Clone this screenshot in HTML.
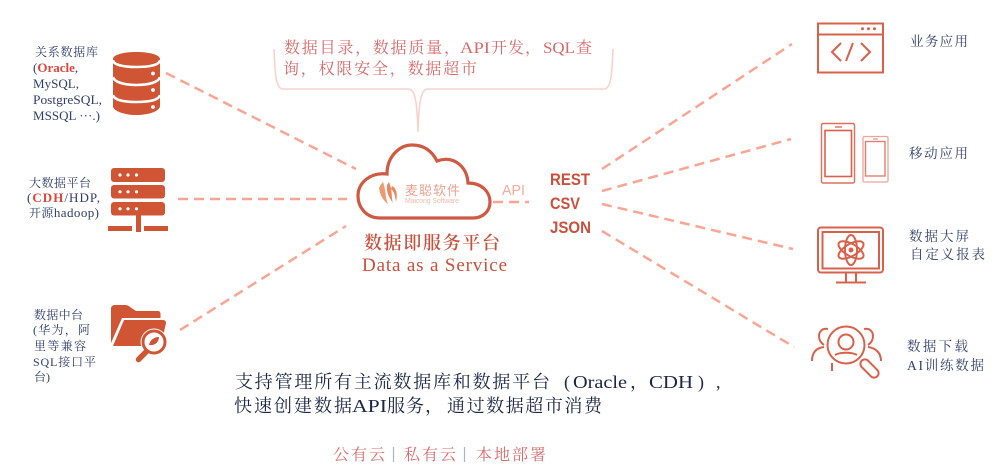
<!DOCTYPE html>
<html><head><meta charset="utf-8">
<style>
html,body{margin:0;padding:0;background:#fff}
svg{display:block}
text{font-family:"Liberation Serif","Noto Serif CJK SC",serif}
.l{font-size:12px;fill:#2f3d6a}
.n{font-size:13px;fill:#2f3d6a}
.m{font-size:13.500px;fill:#2f3d6a}
.b{font-size:18px;fill:#1b2647}
.t{font-size:16px;fill:#d9696a}
.s{font-family:"Liberation Sans","Noto Sans CJK SC",sans-serif}
.r{font-family:"Liberation Sans",sans-serif;font-size:17px;font-weight:bold;fill:#c9503d}
.dash{stroke:#f9a594;stroke-width:2.500;stroke-dasharray:10 6;fill:none}
.ic{fill:none;stroke:#d9604a;stroke-width:2}
</style></head><body>
<svg width="1006" height="473" viewBox="0 0 1006 473" xmlns="http://www.w3.org/2000/svg">
<rect width="1006" height="473" fill="#fff"/>

<!-- connectors -->
<path class="dash" d="M166 73L356 169"/>
<path class="dash" d="M178 199H347"/>
<path class="dash" d="M180 330L346 226"/>
<path class="dash" d="M493 202H529"/>
<path class="dash" d="M602 169L792 44"/>
<path class="dash" d="M602 191L791 139"/>
<path class="dash" d="M602 204L793 249"/>
<path class="dash" d="M602 231L794 347"/>

<!-- bracket -->
<path d="M274 49C275 70 275 89 283 89H408C415 89 417 100 418 132C419 100 421 89 428 89H604C612 89 612 70 613 49" fill="none" stroke="#f7d3cf" stroke-width="1.600"/>

<!-- database icon -->
<path d="M113 59C113 55 123 52 136.500 52S160 55 160 59V106C160 111 149 115 136.500 115S113 111 113 106Z" fill="#d05535"/>
<path d="M113 60C113 65 124 67 136.500 67S160 65 160 60M113 77C114 82 124 85 136.500 85S159 82 160 77M113 95C114 100 124 102 136.500 102S159 100 160 95" fill="none" stroke="#fff" stroke-width="2.600"/>
<circle cx="153" cy="73.500" r="1.900" fill="#fff"/><circle cx="153" cy="90" r="1.900" fill="#fff"/><circle cx="153" cy="107" r="1.900" fill="#fff"/>

<!-- server icon -->
<g fill="#d05535">
<rect x="111" y="168" width="54" height="14" rx="3"/>
<rect x="111" y="185" width="54" height="13.500" rx="3"/>
<rect x="111" y="202" width="54" height="13.500" rx="3"/>
<rect x="136" y="215" width="5" height="17"/>
<rect x="108" y="226" width="24" height="5"/>
<rect x="144" y="226" width="24" height="5"/>
</g>
<g fill="#fff">
<circle cx="120" cy="175" r="1.600"/><circle cx="128" cy="175" r="1.600"/><circle cx="136.500" cy="175" r="1.600"/>
<circle cx="120" cy="191.800" r="1.600"/><circle cx="128" cy="191.800" r="1.600"/><circle cx="136.500" cy="191.800" r="1.600"/>
<circle cx="120" cy="208.800" r="1.600"/><circle cx="128" cy="208.800" r="1.600"/><circle cx="136.500" cy="208.800" r="1.600"/>
</g>

<!-- folder icon -->
<path d="M111 309Q111 305 115 305H125Q128 305 130 307L136 311H158Q160.500 311 160.500 314V318H122L111 343Z" fill="#d05535"/>
<path d="M124 320H163Q166 320 166 323L164 332L147 346H113Z" fill="#d05535"/>
<circle cx="154" cy="342" r="13.500" fill="#fff"/>
<circle cx="154" cy="342" r="11" fill="#fff" stroke="#d05535" stroke-width="3"/>
<path d="M149 345C150 340 154 337 159 337C159 342 155 346 149 345Z" fill="#d05535"/>
<path d="M146 352L138.500 359.500" stroke="#d05535" stroke-width="5.500" stroke-linecap="round"/>

<!-- cloud -->
<path d="M380 218C366 218 358 207 358 196C358 183 370 172 387 174C387 156 400 145 412 145C424 145 432 151 437 161C453 155 467 166 468 183C482 183 490 192 490 202C490 212 482 218 473 218Z" fill="#fff" stroke="#cf5a43" stroke-width="3.200"/>
<path d="M379 188C380 196 384 201 388 204C385 197 386 190 383 182C381 184 380 186 379 188Z" fill="#ec9a70"/>
<path d="M387 185C386 193 390 199 393 203C391 197 393 192 389 182Z" fill="#e58a60"/>
<path d="M392 186C396 188 398 193 396 202C395 196 394 191 391 189Z" fill="#e58a60"/>
<text x="405" y="195" class="s" font-size="13" fill="#eaa391" textLength="55" lengthAdjust="spacing">麦聪软件</text>
<text x="405" y="203" class="s" font-size="7" fill="#f0bcab" textLength="54" lengthAdjust="spacing">Maicong Software</text>

<!-- center labels -->
<text x="364" y="249" font-size="18" font-weight="600" fill="#c9503d" textLength="136" lengthAdjust="spacing">数据即服务平台</text>
<text x="362" y="271" font-size="19" fill="#c9503d" textLength="145" lengthAdjust="spacing">Data as a Service</text>
<text x="502" y="195" class="s" font-size="15" fill="#f8ac9c" textLength="23" lengthAdjust="spacingAndGlyphs">API</text>
<text x="550" y="185" class="r" textLength="40" lengthAdjust="spacingAndGlyphs">REST</text>
<text x="550" y="209" class="r" textLength="30" lengthAdjust="spacingAndGlyphs">CSV</text>
<text x="550" y="233" class="r" textLength="41" lengthAdjust="spacingAndGlyphs">JSON</text>

<!-- top text -->
<text x="284" y="53" class="t" textLength="176" lengthAdjust="spacing">数据目录，数据质量，</text>
<text x="460" y="53" class="t" textLength="30" lengthAdjust="spacingAndGlyphs">API</text>
<text x="491" y="53" class="t" textLength="50" lengthAdjust="spacing">开发，</text>
<text x="543" y="53" class="t" textLength="32" lengthAdjust="spacingAndGlyphs">SQL</text>
<text x="576" y="53" class="t">查</text>
<text x="283" y="74" class="t" textLength="194" lengthAdjust="spacing">询，权限安全，数据超市</text>

<!-- left labels -->
<text x="35" y="56" class="l" textLength="63" lengthAdjust="spacing">关系数据库</text>
<text x="33" y="72" class="n">(<tspan fill="#d8473c" font-weight="bold">Oracle</tspan>,</text>
<text x="33" y="88" class="n" textLength="46" lengthAdjust="spacingAndGlyphs">MySQL,</text>
<text x="33" y="104" class="n" textLength="69" lengthAdjust="spacingAndGlyphs">PostgreSQL,</text>
<text x="33" y="120" class="n" textLength="67" lengthAdjust="spacing">MSSQL ···.)</text>
<text x="29" y="187" class="l" textLength="62" lengthAdjust="spacing">大数据平台</text>
<text x="27" y="202" class="n" textLength="73" lengthAdjust="spacing">(<tspan fill="#d8473c" font-weight="bold">CDH</tspan>/HDP,</text>
<text x="29" y="217" class="l" textLength="70" lengthAdjust="spacing">开源<tspan font-size="13">hadoop)</tspan></text>
<text x="34" y="319" class="l" textLength="49" lengthAdjust="spacing">数据中台</text>
<text x="33" y="334" class="l" textLength="57" lengthAdjust="spacing">(华为，阿</text>
<text x="34" y="350" class="l" textLength="52" lengthAdjust="spacing">里等兼容</text>
<text x="33" y="366" class="l" textLength="63" lengthAdjust="spacing">SQL接口平</text>
<text x="34" y="381" class="l" textLength="16" lengthAdjust="spacing">台)</text>

<!-- window icon -->
<rect class="ic" x="818" y="23.500" width="65" height="49"/>
<path class="ic" d="M818 34.500H883"/>
<circle cx="862.500" cy="28.700" r="1.500" fill="#d9604a"/><circle cx="868.500" cy="28.700" r="1.500" fill="#d9604a"/><circle cx="874.500" cy="28.700" r="1.500" fill="#d9604a"/>
<path class="ic" stroke-width="1.500" d="M841 43L832 52L841 61M861 43L870 52L861 61M853 43L846 61"/>

<!-- phones -->
<rect x="821.500" y="123.500" width="33" height="59.500" rx="1.500" fill="none" stroke="#e0705c" stroke-width="1.400"/>
<rect x="825" y="130.500" width="26.500" height="46" fill="none" stroke="#d9604a" stroke-width="1.600"/>
<path d="M835 127H842" stroke="#e0705c" stroke-width="1.400"/>
<rect x="863" y="136.500" width="25" height="45.500" rx="1.500" fill="none" stroke="#eca59b" stroke-width="1.300"/>
<rect x="865.500" y="141.500" width="19.500" height="34.500" fill="none" stroke="#e07f70" stroke-width="1.400"/>
<path d="M873 139H878" stroke="#e79488" stroke-width="1.200"/>

<!-- monitor -->
<rect class="ic" x="818" y="227.500" width="65" height="45" rx="3" stroke-width="1.800"/>
<rect class="ic" x="822.500" y="232" width="56.500" height="36.500" stroke-width="1.600"/>
<path class="ic" stroke-width="1.500" d="M846 273V282M856 273V282M836 282.500H866"/>
<g class="ic" stroke-width="1.300">
<ellipse cx="851" cy="250" rx="14" ry="6" transform="rotate(30 851 250)"/>
<ellipse cx="851" cy="250" rx="14" ry="6" transform="rotate(-30 851 250)"/>
<ellipse cx="851" cy="250" rx="15" ry="6" transform="rotate(90 851 250)"/>
</g>
<circle cx="851" cy="250" r="2.500" fill="#d9604a"/>

<!-- person search -->
<g class="ic" stroke-width="1.500">
<circle cx="846" cy="345" r="18.500"/>
<circle cx="846" cy="342" r="7.500"/>
<path d="M835 355C840 352 852 352 857 355"/>
<path d="M828 329C823 328 819 331 819 336C819 340 821 343 824 345"/>
<path d="M864 329C869 328 873 331 873 336C873 340 871 343 868 345"/>
<path d="M812 361C812 353 816 348 824 347"/>
<path d="M881 361C881 353 876 348 868 347"/>
<path d="M832 363V371"/>
<rect x="865" y="357.500" width="9" height="22" rx="4.500" transform="rotate(-45 869.500 368.500)"/>
</g>

<!-- right labels -->
<text x="910" y="46" class="m" textLength="58" lengthAdjust="spacing">业务应用</text>
<text x="909" y="158" class="m" textLength="59" lengthAdjust="spacing">移动应用</text>
<text x="909" y="241" class="m" textLength="60" lengthAdjust="spacing">数据大屏</text>
<text x="910" y="259" class="m" textLength="75" lengthAdjust="spacing">自定义报表</text>
<text x="907" y="351" class="m" textLength="61" lengthAdjust="spacing">数据下载</text>
<text x="907" y="370" class="m" textLength="77" lengthAdjust="spacing">AI训练数据</text>

<!-- bottom -->
<text x="235" y="388" class="b" textLength="315" lengthAdjust="spacing">支持管理所有主流数据库和数据平台</text>
<text x="564" y="388" class="b">(</text>
<text x="573" y="388" class="b" textLength="54" lengthAdjust="spacingAndGlyphs">Oracle</text>
<text x="630" y="388" class="b">，</text>
<text x="649" y="388" class="b" textLength="44" lengthAdjust="spacingAndGlyphs">CDH</text>
<text x="698" y="388" class="b">)</text>
<text x="716" y="388" class="b">,</text>
<text x="234" y="412" class="b" textLength="118" lengthAdjust="spacing">快速创建数据</text>
<text x="352" y="412" class="b" textLength="35" lengthAdjust="spacingAndGlyphs">API</text>
<text x="387" y="412" class="b" textLength="56" lengthAdjust="spacing">服务，</text>
<text x="447" y="412" class="b" textLength="155" lengthAdjust="spacing">通过数据超市消费</text>
<text x="333" y="460" class="t" textLength="52" lengthAdjust="spacing">公有云</text>
<text x="404" y="460" class="t" textLength="52" lengthAdjust="spacing">私有云</text>
<text x="476" y="460" class="t" textLength="70" lengthAdjust="spacing">本地部署</text>
<path d="M393.500 447V462M464.500 447V462" stroke="#a9b3cc" stroke-width="1.200"/>
</svg>
</body></html>
